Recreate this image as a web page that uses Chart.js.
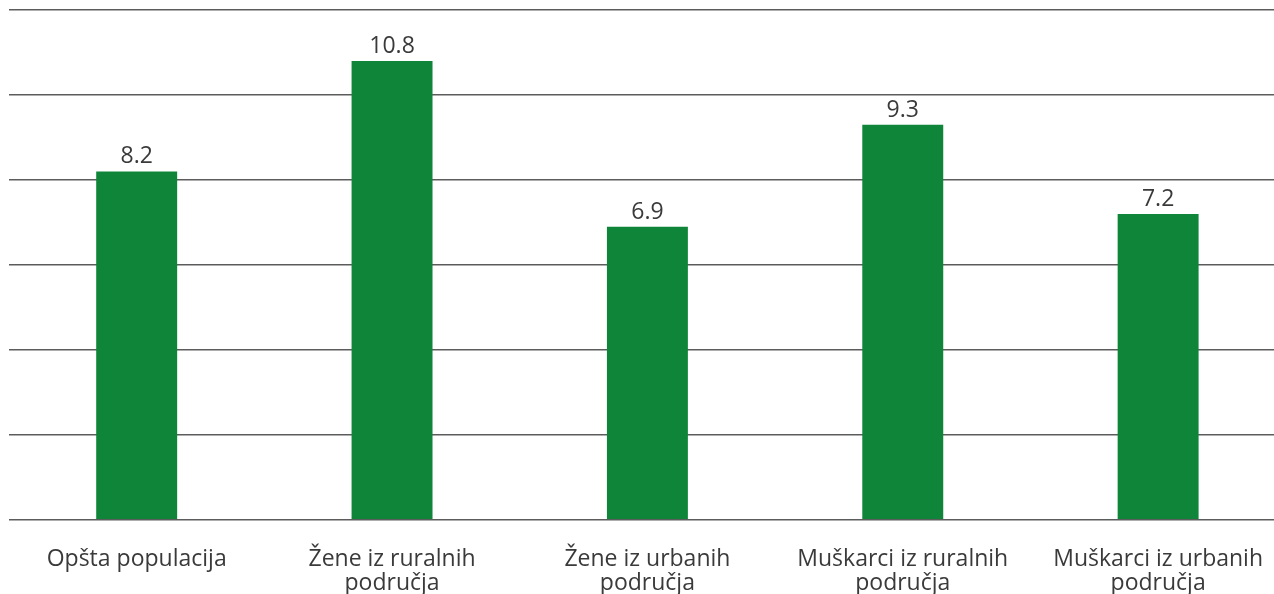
<!DOCTYPE html>
<html>
<head>
<meta charset="utf-8">
<script src="https://cdn.jsdelivr.net/npm/chart.js@4.4.1/dist/chart.umd.min.js"></script>
<style>
  html, body { margin: 0; padding: 0; background: #fff; overflow: hidden; }
  #wrap { position: absolute; left: 0; top: 0; width: 1290px; height: 639px; }
</style>
</head>
<body>
<div id="wrap"><canvas id="bars"></canvas></div>
<script>
const categories = [
  ["Opšta populacija"],
  ["Žene iz ruralnih", "područja"],
  ["Žene iz urbanih", "područja"],
  ["Muškarci iz ruralnih", "područja"],
  ["Muškarci iz urbanih", "područja"]
];
const values = [8.2, 10.8, 6.9, 9.3, 7.2];

const barGreen = "#0e8538";
const textColor = "#3a3a3a";
const fontFamily = "'Open Sans', sans-serif";
const fontSize = 23;

// value printed over each bar
const valueLabels = {
  id: "valueLabels",
  afterDatasetsDraw(chart) {
    const ctx = chart.ctx;
    const meta = chart.getDatasetMeta(0);
    ctx.save();
    ctx.fillStyle = textColor;
    ctx.font = fontSize + "px " + fontFamily;
    ctx.textAlign = "center";
    ctx.textBaseline = "alphabetic";
    meta.data.forEach((bar, i) => {
      ctx.fillText(values[i].toFixed(1), bar.x, bar.y - 8);
    });
    ctx.restore();
  }
};

const ctx = document.getElementById("bars");

new Chart(ctx, {
  type: "bar",
  data: {
    labels: categories,
    datasets: [{
      data: values,
      backgroundColor: barGreen,
      borderWidth: 0,
      barPercentage: 0.317,
      categoryPercentage: 1
    }]
  },
  options: {
    responsive: true,
    maintainAspectRatio: false,
    animation: false,
    layout: { padding: { left: 9, right: 0, top: 10, bottom: 16 } },
    plugins: {
      legend: { display: false },
      tooltip: { enabled: false }
    },
    scales: {
      x: {
        grid: { display: false, drawTicks: false },
        border: { display: false },
        ticks: {
          color: textColor,
          padding: 27,
          maxRotation: 0,
          autoSkip: false,
          font: { family: fontFamily, size: fontSize, lineHeight: 1.07 }
        }
      },
      y: {
        min: 0,
        max: 12,
        ticks: { display: false, stepSize: 2 },
        border: { display: false },
        grid: { color: "#5c5c5c", lineWidth: 1.5, drawTicks: false }
      }
    }
  },
  plugins: [valueLabels]
});
</script>
</body>
</html>
